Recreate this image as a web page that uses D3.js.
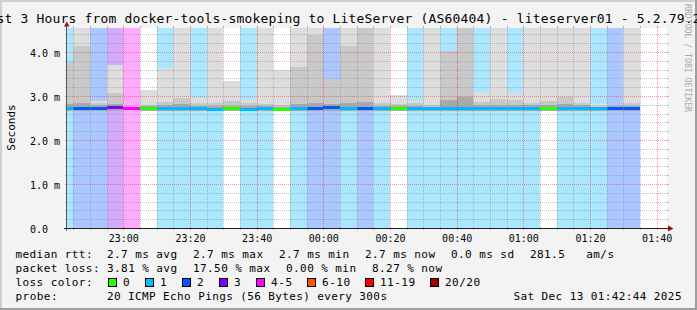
<!DOCTYPE html>
<html>
<head>
<meta charset="utf-8">
<script src="https://cdn.jsdelivr.net/npm/d3@7"></script>
<style>
body { margin: 0; background: #f3f3f3; }
svg text { font-family: "DejaVu Sans Mono", monospace; white-space: pre; }
</style>
</head>
<body>
<svg id="chart" width="697" height="310"></svg>
<script>
// SmokePing detail graph, last 3 hours, 300s steps

// start of each 5 minute step
var slots = ["22:40","22:45","22:50","22:55","23:00","23:05","23:10","23:15","23:20","23:25",
	"23:30","23:35","23:40","23:45","23:50","23:55","00:00","00:05","00:10","00:15",
	"00:20","00:25","00:30","00:35","00:40","00:45","00:50","00:55","01:00","01:05",
	"01:10","01:15","01:20","01:25","01:30"];
// index into lossNames / lossColors
var lossIdx = [1,2,2,3,4,0,1,1,1,1, 0,1,1,0,1,2,2,1,2,1, 0,1,1,1,1,1,1,1,1,0, 1,1,1,2,2];
// median rtt in ms
var median = [2.72,2.705,2.71,2.73,2.705,2.705,2.71,2.71,2.72,2.70,
	2.705,2.685,2.705,2.70,2.705,2.72,2.735,2.71,2.72,2.715,
	2.71,2.71,2.71,2.71,2.71,2.71,2.72,2.71,2.71,2.71,
	2.71,2.71,2.71,2.72,2.71];
// smoke bands (ms): outer, middle, inner tops and common bottom
var smokeMax = [3.78,4.6,2.88,3.71,2.705,3.14,3.64,4.6,2.95,4.6,
	3.33,2.92,4.6,3.58,4.6,4.6,3.39,4.6,4.6,4.6,
	3.02,2.88,4.6,4.03,4.6,3.09,4.6,3.06,4.6,4.6,
	4.6,4.6,2.82,2.80,4.6];
var smokeMid = [3.78,4.14,2.84,3.07,2.705,2.80,2.86,2.95,2.84,2.84,
	2.88,2.84,2.82,2.80,3.67,4.39,3.39,4.14,4.6,2.84,
	2.82,2.84,2.80,4.03,4.6,2.86,2.93,2.90,2.84,2.88,
	2.98,2.84,2.78,2.80,2.84];
var smokeDark = [2.82,2.84,2.79,2.82,2.705,2.77,2.79,2.81,2.78,2.78,
	2.78,2.78,2.77,2.76,2.82,2.85,2.82,2.84,2.86,2.78,
	2.77,2.78,2.76,2.91,2.98,2.79,2.80,2.80,2.79,2.80,
	2.82,2.79,2.76,2.77,2.78];
var smokeMin = [2.665,2.665,2.665,2.665,2.705,2.665,2.665,2.665,2.665,2.665,
	2.665,2.66,2.665,2.665,2.665,2.665,2.665,2.665,2.665,2.665,
	2.665,2.665,2.665,2.665,2.665,2.665,2.665,2.665,2.665,2.665,
	2.665,2.665,2.665,2.665,2.665];

var lossNames = ["0","1","2","3","4-5","6-10","11-19","20/20"];
var lossColors = ["#26ff00","#00b8ff","#0059ff","#7e00ff","#ff00ff","#ff5500","#ff0000","#a00000"];

var yTicks = [0, 1, 2, 3, 4];
var yTickLabels = ["0.0", "1.0 m", "2.0 m", "3.0 m", "4.0 m"];

var titleText = "Last 3 Hours from docker-tools-smokeping to LiteServer (AS60404) - liteserver01 - 5.2.79.2";
var rttItems = ["2.7 ms avg","2.7 ms max","2.7 ms min","2.7 ms now","0.0 ms sd","281.5   am/s"];
var lossItems = ["3.81 % avg","17.50 % max","0.00 % min","8.27 % now"];
var probeText = "20 ICMP Echo Pings (56 Bytes) every 300s";
var stampText = "Sat Dec 13 01:42:44 2025";

var W = 697, H = 310;
var plotL = 67, plotR = 667, plotT = 28, plotB = 228;

function slotDate(s) {
	var p = s.split(":"), h = +p[0];
	return new Date(2025, 11, h >= 12 ? 12 : 13, h, +p[1]);
}

var x = d3.scaleTime()
	.domain([new Date(2025, 11, 12, 22, 43, 6), new Date(2025, 11, 13, 1, 43, 6)])
	.range([plotL, plotR]);
var y = d3.scaleLinear().domain([0, 200 / 44]).range([plotB, plotT]);

var svg = d3.select("#chart");

svg.append("rect").attr("width", W).attr("height", H).attr("fill", "#f3f3f3");
svg.append("path").attr("d", "M0,0H697V2H2V310H0Z").attr("fill", "#cfcfcf");
svg.append("path").attr("d", "M697,0V310H0V308H695V0Z").attr("fill", "#9e9e9e");

svg.append("defs").append("clipPath").attr("id", "plotclip")
	.append("rect").attr("x", plotL).attr("y", plotT).attr("width", plotR - plotL).attr("height", plotB - plotT);

svg.append("rect").attr("x", plotL).attr("y", plotT).attr("width", plotR - plotL).attr("height", plotB - plotT)
	.attr("fill", "#ffffff");

var cols = slots.map(function(s, i) {
	var t0 = slotDate(s);
	return {t0: t0, t1: d3.timeMinute.offset(t0, 5), loss: lossIdx[i], med: median[i],
		max: smokeMax[i], mid: smokeMid[i], dark: smokeDark[i], min: smokeMin[i]};
});

var plot = svg.append("g").attr("clip-path", "url(#plotclip)").attr("shape-rendering", "crispEdges");

// loss background (full height, faded loss colour)
plot.selectAll("rect.lossbg")
	.data(cols.filter(c => c.loss > 0))
	.enter().append("rect")
	.attr("x", c => x(c.t0))
	.attr("width", c => x(c.t1) - x(c.t0))
	.attr("y", plotT)
	.attr("height", plotB - plotT)
	.attr("fill", c => d3.interpolateRgb("#ffffff", lossColors[c.loss])(0.333));

// smoke
[["max", "#dddddd"], ["mid", "#c8c8c8"], ["dark", "#a9a9a9"]].forEach(function(layer) {
	plot.selectAll("rect.smoke-" + layer[0])
		.data(cols)
		.enter().append("rect")
		.attr("x", c => x(c.t0))
		.attr("width", c => x(c.t1) - x(c.t0))
		.attr("y", c => y(c[layer[0]]))
		.attr("height", c => Math.max(0, y(c.min) - y(c[layer[0]])))
		.attr("fill", layer[1]);
});

// median band in loss colour
plot.selectAll("rect.median")
	.data(cols)
	.enter().append("rect")
	.attr("x", c => x(c.t0))
	.attr("width", c => x(c.t1) - x(c.t0))
	.attr("y", c => y(c.med) - 1.5)
	.attr("height", 3)
	.attr("fill", c => lossColors[c.loss]);

// grid
var grid = svg.append("g");
var minorY = d3.range(1, 23).filter(k => k % 5 != 0).map(k => k * 0.2);
var minorX = d3.timeMinute.every(5).range(x.domain()[0], x.domain()[1]).filter(t => t.getMinutes() % 20 != 0);
var majorX = x.ticks(d3.timeMinute.every(20));
var gridCol = "rgba(143,143,143,0.55)", mgridCol = "rgba(240,0,0,0.4)";

function py(v) { return Math.round(y(v)) + 0.5; }
function px(t) { return Math.round(x(t)) + 0.5; }

function hLines(vals, col) {
	vals.forEach(function(v) {
		grid.append("line").attr("x1", plotL - 1).attr("x2", plotR + 1).attr("y1", py(v)).attr("y2", py(v))
			.attr("stroke", col).attr("stroke-dasharray", "1,1");
		grid.append("path").attr("d", "M" + (plotL - 2) + "," + py(v) + "h2M" + plotR + "," + py(v) + "h2")
			.attr("stroke", col);
	});
}
function vLines(vals, col) {
	vals.forEach(function(t) {
		grid.append("line").attr("x1", px(t)).attr("x2", px(t)).attr("y1", plotT - 1).attr("y2", plotB + 1)
			.attr("stroke", col).attr("stroke-dasharray", "1,1");
		grid.append("path").attr("d", "M" + px(t) + "," + (plotT - 2) + "v2M" + px(t) + "," + plotB + "v2")
			.attr("stroke", col);
	});
}
hLines(minorY, gridCol);
vLines(minorX, gridCol);
hLines(yTicks.filter(v => v > 0), mgridCol);
vLines(majorX, mgridCol);

// axes lines + arrows
svg.append("line").attr("x1", plotL - 0.5).attr("x2", plotL - 0.5).attr("y1", plotB + 3).attr("y2", plotT - 2)
	.attr("stroke", "#555");
svg.append("line").attr("x1", plotL - 3).attr("x2", plotR + 3).attr("y1", plotB + 0.5).attr("y2", plotB + 0.5)
	.attr("stroke", "#222");
svg.append("path").attr("d", "M64,26.5L69.5,26.5L66.75,21.5Z").attr("fill", "#9a1010");
svg.append("path").attr("d", "M668,225.5L668,231.5L673.5,228.5Z").attr("fill", "#9a1010");

// y axis labels
var gy = svg.append("g").attr("transform", "translate(" + plotL + ",0)")
	.call(d3.axisLeft(y).tickValues(yTicks).tickFormat((d, i) => yTickLabels[i]).tickSize(0).tickPadding(0));
gy.select(".domain").remove();
gy.attr("font-family", null).attr("font-size", null);
gy.selectAll("text").attr("text-anchor", "start").attr("x", 30 - plotL).attr("dy", "0.4em")
	.attr("font-size", "10px").attr("fill", "#000");

// x axis labels
var gx = svg.append("g").attr("transform", "translate(0," + plotB + ")")
	.call(d3.axisBottom(x).tickValues(majorX).tickFormat(d3.timeFormat("%H:%M")).tickSize(0).tickPadding(0));
gx.select(".domain").remove();
gx.attr("font-family", null).attr("font-size", null);
gx.selectAll("text").attr("y", 14).attr("dy", null).attr("font-size", "10px").attr("fill", "#000");

// texts
function addText(xx, yy, s, size, adv, anchor) {
	return svg.append("text").attr("x", xx).attr("y", yy).text(s)
		.attr("font-size", size + "px")
		.attr("textLength", s.length * adv).attr("lengthAdjust", "spacing")
		.attr("text-anchor", anchor || "start");
}

addText(-19.5, 23, titleText, 13, 8);

svg.append("text").attr("transform", "translate(15,127.5) rotate(-90)")
	.attr("text-anchor", "middle").attr("font-size", "11px").text("Seconds");

svg.append("text").attr("transform", "translate(685,4) rotate(90)")
	.attr("font-size", "8.2px").attr("fill", "#aaaaaa")
	.attr("textLength", 108).attr("lengthAdjust", "spacing")
	.text("RRDTOOL / TOBI OETIKER");

// legend
var lx0 = 15.5, lx1 = 107;
function legendRow(yb, label, items) {
	addText(lx0, yb, label, 11, 7);
	var xx = lx1;
	items.forEach(function(s) {
		addText(xx, yb, s, 11, 7);
		xx += s.length * 7 + 16;
	});
}
legendRow(258, "median rtt:", rttItems);
legendRow(272, "packet loss:", lossItems);

addText(lx0, 286, "loss color:", 11, 7);
var sx = 108;
lossNames.forEach(function(n, i) {
	svg.append("rect").attr("x", sx + 0.5).attr("y", 278.5).attr("width", 8).attr("height", 8)
		.attr("fill", lossColors[i]).attr("stroke", "#000");
	addText(sx + 15, 286, n, 11, 7);
	sx += 15 + n.length * 7 + 15;
});

addText(lx0, 300, "probe:", 11, 7);
addText(lx1, 300, probeText, 11, 7);
addText(681.5, 300, stampText, 11, 7, "end");
</script>
</body>
</html>
